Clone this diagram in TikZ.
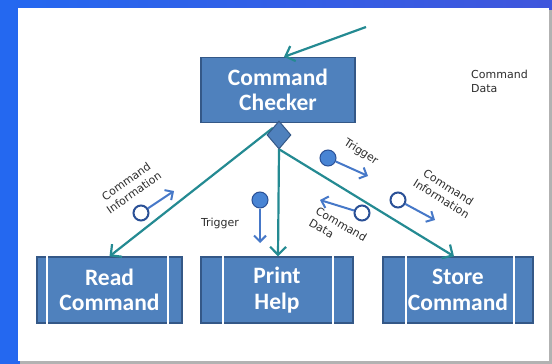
\documentclass[tikz,border=0pt]{standalone}
\usepackage{fontspec}
\setmainfont{Carlito}
\newfontfamily\lblfont{DejaVu Sans}
\usetikzlibrary{arrows.meta,shapes.geometric}

\definecolor{bgleft}{RGB}{36,104,240}
\definecolor{bgright}{RGB}{64,86,220}
\definecolor{boxfill}{RGB}{79,129,189}
\definecolor{boxline}{RGB}{52,88,135}
\definecolor{flow}{RGB}{36,138,146}
\definecolor{icon}{RGB}{70,120,200}
\definecolor{iconring}{RGB}{42,80,150}
\definecolor{iconfill}{RGB}{72,132,212}
\definecolor{lbl}{RGB}{45,45,45}

\begin{document}
\begin{tikzpicture}[x=1pt,y=-1pt,
  procbox/.style={draw=boxline, line width=1.3pt, fill=boxfill, text=white,
    align=center, inner sep=0pt, font=\bfseries\fontsize{23.5}{25.5}\selectfont},
  flowline/.style={draw=flow, line width=2.2pt,
    -{Straight Barb[length=8pt,width=16pt,line width=2.2pt]}},
  sideline/.style={draw=white, line width=2.2pt},
  ringopen/.style={circle, draw=iconring, line width=2pt, fill=white,
    minimum size=15pt, inner sep=0pt},
  ringfull/.style={circle, draw=iconring, line width=1pt, fill=iconfill,
    minimum size=16pt, inner sep=0pt},
  iconarrow/.style={draw=icon, line width=2pt,
    -{Straight Barb[length=6pt,width=12pt,line width=2pt]}},
  smalltext/.style={text=lbl, inner sep=0pt,
    font=\lblfont\fontsize{11}{13.5}\selectfont}
]
% background and white panel
\shade[left color=bgleft, right color=bgright] (0,0) rectangle (552,364);
\fill[black!30] (20,10) rectangle (552,364);
\fill[white] (18,8) rectangle (549,361);
\useasboundingbox (0,0) rectangle (552,364);

% process boxes
\node[procbox, minimum width=154pt, minimum height=65pt] (cc) at (278,90)
  {Command\\Checker};
\node[procbox, minimum width=145pt, minimum height=66pt] (rd) at (109.5,290)
  {Read\\Command};
\node[procbox, minimum width=152pt, minimum height=66pt] (ph) at (277,290)
  {Print\\Help};
\node[procbox, minimum width=150pt, minimum height=66pt] (sc) at (458,290)
  {Store\\Command};

% vertical bars of the predefined-process boxes
\draw[sideline] ([xshift=11pt,yshift=1pt]rd.north west) -- ([xshift=11pt,yshift=-1pt]rd.south west);
\draw[sideline] ([xshift=-15pt,yshift=1pt]rd.north east) -- ([xshift=-15pt,yshift=-1pt]rd.south east);
\draw[sideline] ([xshift=23pt,yshift=1pt]ph.north west) -- ([xshift=23pt,yshift=-1pt]ph.south west);
\draw[sideline] ([xshift=-21pt,yshift=1pt]ph.north east) -- ([xshift=-21pt,yshift=-1pt]ph.south east);
\draw[sideline] ([xshift=24pt,yshift=1pt]sc.north west) -- ([xshift=24pt,yshift=-1pt]sc.south west);
\draw[sideline] ([xshift=-20pt,yshift=1pt]sc.north east) -- ([xshift=-20pt,yshift=-1pt]sc.south east);

% selection diamond under the checker (named so the calls can start from it)
\node[diamond, inner sep=0pt, minimum width=24pt, minimum height=28pt]
  (dm) at (279,135) {};

% incoming call
\coordinate (src) at (366,27);
\draw[flowline] (src) -- ([xshift=6pt]cc.north);

% calls to the sub-modules
\draw[flowline] (dm.north west) -- (rd.north);
\draw[flowline] (dm.south) -- ([xshift=1pt]ph.north);
\draw[flowline] (dm.south) -- ([xshift=-4pt]sc.north);
\node[diamond, draw=boxline, line width=1pt, fill=boxfill, inner sep=0pt,
  minimum width=24pt, minimum height=28pt] (dmface) at (dm) {};

% data couples and control flags
\node[ringopen] (c1) at (141,213) {};
\coordinate (c1t) at (174,191);
\draw[iconarrow] (c1) -- (c1t);
\node[smalltext, rotate=35, align=center] (c1l) at (130,187) {Command\\Information};

\node[ringfull] (t1) at (260,200) {};
\coordinate (t1t) at (260,243);
\draw[iconarrow] (t1) -- (t1t);
\node[smalltext] (t1l) at (220,223) {Trigger};

\node[ringfull] (t2) at (328,158) {};
\coordinate (t2t) at (368,176);
\draw[iconarrow] (t2) -- (t2t);
\node[smalltext, rotate=-33] (t2l) at (361,152) {Trigger};

\node[ringopen] (d1) at (362,213) {};
\coordinate (d1t) at (320,200);
\draw[iconarrow] (d1) -- (d1t);
\node[smalltext, rotate=-30, align=left] (d1l) at (338,230) {Command\\Data};

\node[ringopen] (c2) at (398,200) {};
\coordinate (c2t) at (435,220);
\draw[iconarrow] (c2) -- (c2t);
\node[smalltext, rotate=-32, align=center] (c2l) at (445,193) {Command\\Information};

% legend text
\node[smalltext, align=left, anchor=north west] (lg) at (471,70) {Command\\Data};
\end{tikzpicture}
\end{document}
